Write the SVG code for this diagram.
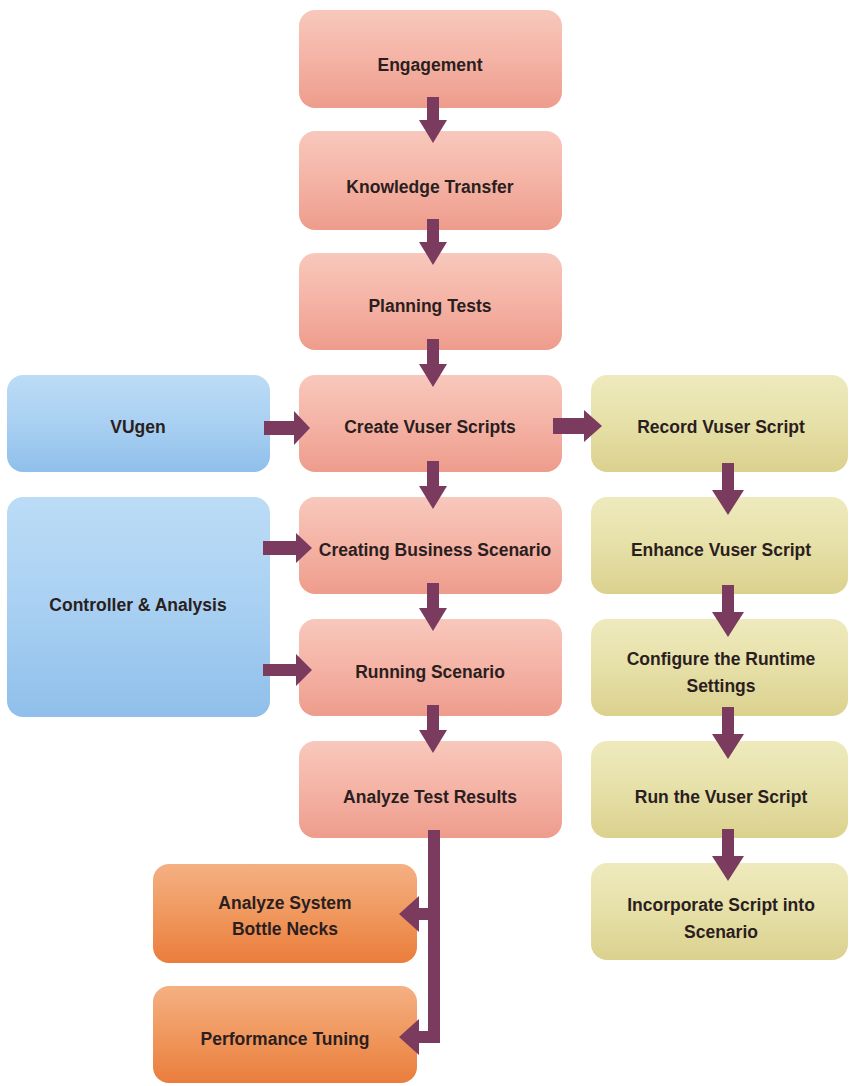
<svg xmlns="http://www.w3.org/2000/svg" width="849" height="1086" viewBox="0 0 849 1086">
<defs>
<linearGradient id="gPink" x1="0" y1="0" x2="0" y2="1"><stop offset="0" stop-color="#f8c8bc"/><stop offset="0.5" stop-color="#f4b3a5"/><stop offset="1" stop-color="#ee9c8c"/></linearGradient>
<linearGradient id="gBlue" x1="0" y1="0" x2="0" y2="1"><stop offset="0" stop-color="#bcdcf6"/><stop offset="0.5" stop-color="#a9d0f2"/><stop offset="1" stop-color="#8fbfea"/></linearGradient>
<linearGradient id="gOlive" x1="0" y1="0" x2="0" y2="1"><stop offset="0" stop-color="#eeeabd"/><stop offset="0.5" stop-color="#e6e0a8"/><stop offset="1" stop-color="#dbd18e"/></linearGradient>
<linearGradient id="gOrange" x1="0" y1="0" x2="0" y2="1"><stop offset="0" stop-color="#f4b083"/><stop offset="0.5" stop-color="#f0985e"/><stop offset="1" stop-color="#ea7d3c"/></linearGradient>
</defs>
<style>
.pink{fill:url(#gPink)}
.blue{fill:url(#gBlue)}
.olive{fill:url(#gOlive)}
.orange{fill:url(#gOrange)}
text{font-family:"Liberation Sans",Arial,sans-serif;font-weight:bold;font-size:17.5px;fill:#2b1e20;text-anchor:middle;dominant-baseline:middle}
.arr{fill:#7a3b5f}
.line{stroke:#7a3b5f;stroke-width:12;fill:none}
</style>
<rect width="849" height="1086" fill="#ffffff"/>

<g id="engagement"><rect class="pink" x="299" y="10" width="263" height="98" rx="16"/><text x="430" y="66">Engagement</text></g>
<g id="knowledge-transfer"><rect class="pink" x="299" y="131" width="263" height="99" rx="16"/><text x="430" y="188">Knowledge Transfer</text></g>
<g id="planning-tests"><rect class="pink" x="299" y="253" width="263" height="97" rx="16"/><text x="430" y="307">Planning Tests</text></g>
<g id="create-vuser-scripts"><rect class="pink" x="299" y="375" width="263" height="97" rx="16"/><text x="430" y="428">Create Vuser Scripts</text></g>
<g id="creating-business-scenario"><rect class="pink" x="299" y="497" width="263" height="97" rx="16"/><text x="435" y="551">Creating Business Scenario</text></g>
<g id="running-scenario"><rect class="pink" x="299" y="619" width="263" height="97" rx="16"/><text x="430" y="673">Running Scenario</text></g>
<g id="analyze-test-results"><rect class="pink" x="299" y="741" width="263" height="97" rx="16"/><text x="430" y="798">Analyze Test Results</text></g>

<g id="vugen"><rect class="blue" x="7" y="375" width="263" height="97" rx="16"/><text x="138" y="428">VUgen</text></g>
<g id="controller-analysis"><rect class="blue" x="7" y="497" width="263" height="220" rx="16"/><text x="138" y="606">Controller &amp; Analysis</text></g>

<g id="record-vuser-script"><rect class="olive" x="591" y="375" width="257" height="97" rx="16"/><text x="721" y="428">Record Vuser Script</text></g>
<g id="enhance-vuser-script"><rect class="olive" x="591" y="497" width="257" height="97" rx="16"/><text x="721" y="551">Enhance Vuser Script</text></g>
<g id="configure-runtime"><rect class="olive" x="591" y="619" width="257" height="97" rx="16"/><text x="721" y="660">Configure the Runtime</text><text x="721" y="687">Settings</text></g>
<g id="run-vuser-script"><rect class="olive" x="591" y="741" width="257" height="97" rx="16"/><text x="721" y="798">Run the Vuser Script</text></g>
<g id="incorporate-script"><rect class="olive" x="591" y="863" width="257" height="97" rx="16"/><text x="721" y="906">Incorporate Script into</text><text x="721" y="933">Scenario</text></g>

<g id="analyze-bottlenecks"><rect class="orange" x="153" y="864" width="264" height="99" rx="16"/><text x="285" y="904">Analyze System</text><text x="285" y="930">Bottle Necks</text></g>
<g id="performance-tuning"><rect class="orange" x="153" y="986" width="264" height="97" rx="16"/><text x="285" y="1040">Performance Tuning</text></g>

<g id="connectors">
<!-- center column vertical arrows -->
<polygon class="arr" points="427,97 439,97 439,120 447,120 433,143 419,120 427,120"/>
<polygon class="arr" points="427,219 439,219 439,242 447,242 433,265 419,242 427,242"/>
<polygon class="arr" points="427,339 439,339 439,364 447,364 433,387 419,364 427,364"/>
<polygon class="arr" points="427,461 439,461 439,486 447,486 433,509 419,486 427,486"/>
<polygon class="arr" points="427,583 439,583 439,608 447,608 433,631 419,608 427,608"/>
<polygon class="arr" points="427,705 439,705 439,730 447,730 433,753 419,730 427,730"/>
<!-- right column vertical arrows -->
<polygon class="arr" points="722,463 734,463 734,490 744,490 728,515 712,490 722,490"/>
<polygon class="arr" points="722,585 734,585 734,612 744,612 728,637 712,612 722,612"/>
<polygon class="arr" points="722,707 734,707 734,734 744,734 728,759 712,734 722,734"/>
<polygon class="arr" points="722,829 734,829 734,856 744,856 728,881 712,856 722,856"/>
<!-- horizontal arrows -->
<polygon class="arr" points="264,421 294,421 294,411 310,428 294,445 294,435 264,435"/>
<polygon class="arr" points="553,418 584,418 584,410 602,426 584,442 584,434 553,434"/>
<polygon class="arr" points="263,541 296,541 296,533 312,548 296,563 296,555 263,555"/>
<polygon class="arr" points="263,664 296,664 296,654 312,670 296,686 296,676 263,676"/>
<!-- analyze results branches -->
<polyline class="line" points="434,830 434,1037 417,1037"/>
<line class="line" x1="434" y1="914" x2="417" y2="914"/>
<polygon class="arr" points="419,896 419,932 399,914"/>
<polygon class="arr" points="419,1019 419,1055 399,1037"/>
</g>
</svg>
